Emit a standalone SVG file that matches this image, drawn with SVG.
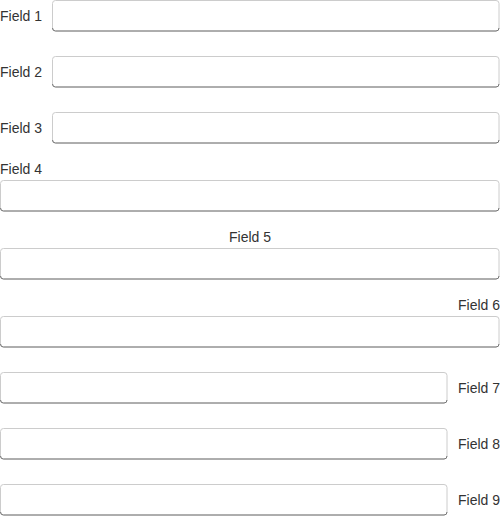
<svg xmlns="http://www.w3.org/2000/svg" width="500" height="524" viewBox="0 0 500 524">
<style>
.box{fill:#fff;stroke:#ccc;stroke-width:1}
.btm{fill:none;stroke:#777;stroke-width:1}
.lbl{font-family:"Liberation Sans",Arial,sans-serif;font-size:14px;fill:#333}
</style>
<rect width="500" height="524" fill="#fff"/>
<g id="field1">
<text class="lbl" x="0" y="21">Field 1</text>
<rect class="box" x="52.5" y="0.5" width="446.5" height="30.5" rx="3"/>
<path class="btm" d="M52.5,28 a3,3 0 0 0 3,3 H496 a3,3 0 0 0 3,-3"/>
</g>
<g id="field2">
<text class="lbl" x="0" y="77">Field 2</text>
<rect class="box" x="52.5" y="56.5" width="446.5" height="30.5" rx="3"/>
<path class="btm" d="M52.5,84 a3,3 0 0 0 3,3 H496 a3,3 0 0 0 3,-3"/>
</g>
<g id="field3">
<text class="lbl" x="0" y="133">Field 3</text>
<rect class="box" x="52.5" y="112.5" width="446.5" height="30.5" rx="3"/>
<path class="btm" d="M52.5,140 a3,3 0 0 0 3,3 H496 a3,3 0 0 0 3,-3"/>
</g>
<g id="field4">
<text class="lbl" x="0" y="174">Field 4</text>
<rect class="box" x="0.5" y="180.5" width="498.5" height="30.5" rx="3"/>
<path class="btm" d="M0.5,208 a3,3 0 0 0 3,3 H496 a3,3 0 0 0 3,-3"/>
</g>
<g id="field5">
<text class="lbl" x="250" y="242" text-anchor="middle">Field 5</text>
<rect class="box" x="0.5" y="248.5" width="498.5" height="30.5" rx="3"/>
<path class="btm" d="M0.5,276 a3,3 0 0 0 3,3 H496 a3,3 0 0 0 3,-3"/>
</g>
<g id="field6">
<text class="lbl" x="500" y="310" text-anchor="end">Field 6</text>
<rect class="box" x="0.5" y="316.5" width="498.5" height="30.5" rx="3"/>
<path class="btm" d="M0.5,344 a3,3 0 0 0 3,3 H496 a3,3 0 0 0 3,-3"/>
</g>
<g id="field7">
<text class="lbl" x="500" y="393" text-anchor="end">Field 7</text>
<rect class="box" x="0.5" y="372.5" width="446.5" height="30.5" rx="3"/>
<path class="btm" d="M0.5,400 a3,3 0 0 0 3,3 H444 a3,3 0 0 0 3,-3"/>
</g>
<g id="field8">
<text class="lbl" x="500" y="449" text-anchor="end">Field 8</text>
<rect class="box" x="0.5" y="428.5" width="446.5" height="30.5" rx="3"/>
<path class="btm" d="M0.5,456 a3,3 0 0 0 3,3 H444 a3,3 0 0 0 3,-3"/>
</g>
<g id="field9">
<text class="lbl" x="500" y="505" text-anchor="end">Field 9</text>
<rect class="box" x="0.5" y="484.5" width="446.5" height="30.5" rx="3"/>
<path class="btm" d="M0.5,512 a3,3 0 0 0 3,3 H444 a3,3 0 0 0 3,-3"/>
</g>
<g id="connectors"/>
</svg>
